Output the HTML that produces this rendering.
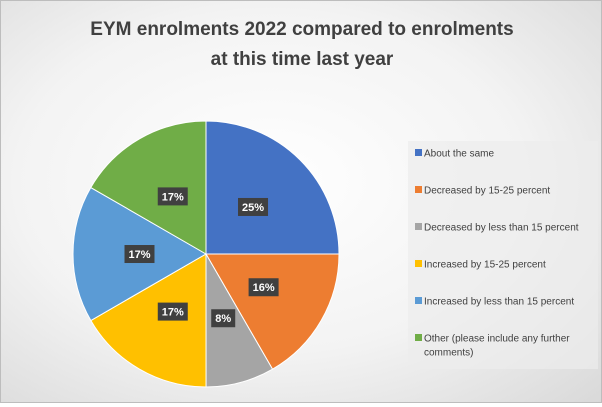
<!DOCTYPE html>
<html><head><meta charset="utf-8"><style>
html,body{margin:0;padding:0;}
body{width:602px;height:403px;overflow:hidden;font-family:"Liberation Sans",sans-serif;}
#chart{position:absolute;left:0;top:0;width:600px;height:401px;border:1px solid #bdbdbd;background:radial-gradient(ellipse at 45% 45%,#ffffff 0%,#f3f3f3 55%,#d9d9d9 100%);}
</style></head><body>
<div id="chart">
<svg width="600" height="401" xmlns="http://www.w3.org/2000/svg">
<text x="301" y="34" text-anchor="middle" font-size="19" font-weight="bold" fill="#404040">EYM enrolments 2022 compared to enrolments</text>
<text x="301" y="64" text-anchor="middle" font-size="19" font-weight="bold" fill="#404040">at this time last year</text>
<g id="slices"></g>
<g id="labels"></g>
<rect x="407" y="140" width="190" height="228" fill="#ececec" opacity="0.7"/>
<g id="legend"></g>
</svg>
</div>
<script>
const categories=["About the same","Decreased by 15-25 percent","Decreased by less than 15 percent","Increased by 15-25 percent","Increased by less than 15 percent","Other (please include any further comments)"];
const values=[25,16.67,8.33,16.67,16.67,16.67];
const valueLabels=["25%","16%","8%","17%","17%","17%"];
const colors=["#4472c4","#ed7d31","#a5a5a5","#ffc000","#5b9bd5","#70ad47"];
const NS="http://www.w3.org/2000/svg";
const cx=205,cy=253,r=133;
const total=values.reduce((a,b)=>a+b,0);
const angle=v=>v/total*Math.PI*2;
const pt=(a,rr)=>[cx+rr*Math.sin(a),cy-rr*Math.cos(a)];
const sg=document.getElementById('slices'),lg=document.getElementById('labels'),leg=document.getElementById('legend');
let acc=0;
values.forEach((v,i)=>{
  const a0=angle(acc),a1=angle(acc+v);acc+=v;
  const p0=pt(a0,r),p1=pt(a1,r);
  const large=(a1-a0)>Math.PI?1:0;
  const p=document.createElementNS(NS,'path');
  p.setAttribute('d',`M${cx},${cy}L${p0[0]},${p0[1]}A${r},${r} 0 ${large} 1 ${p1[0]},${p1[1]}Z`);
  p.setAttribute('fill',colors[i]);p.setAttribute('stroke','#fff');p.setAttribute('stroke-width','1');
  
  
  sg.appendChild(p);
  const m=pt((a0+a1)/2,r*0.5);
  const w=valueLabels[i].length>2?30:24;
  const b=document.createElementNS(NS,'rect');
  b.setAttribute('x',m[0]-w/2);b.setAttribute('y',m[1]-9);b.setAttribute('width',w);b.setAttribute('height',18);b.setAttribute('fill','#404040');
  
  
  lg.appendChild(b);
  const t=document.createElementNS(NS,'text');
  t.setAttribute('x',m[0]);t.setAttribute('y',m[1]+4);t.setAttribute('text-anchor','middle');t.setAttribute('font-size','11');t.setAttribute('font-weight','bold');t.setAttribute('fill','#fff');
  t.textContent=valueLabels[i];
  
  
  lg.appendChild(t);
  const y=152+i*37;
  const s=document.createElementNS(NS,'rect');
  s.setAttribute('x',414);s.setAttribute('y',y-4);s.setAttribute('width',7);s.setAttribute('height',7);s.setAttribute('fill',colors[i]);
  
  
  leg.appendChild(s);
  const lt=document.createElementNS(NS,'text');
  lt.setAttribute('x',423);lt.setAttribute('y',y+3.5);lt.setAttribute('font-size','10');lt.setAttribute('fill','#404040');
  const name=categories[i];
  if(name.length>36){
    const cut=name.lastIndexOf(' ',34);
    const t1=document.createElementNS(NS,'tspan');t1.textContent=name.slice(0,cut);lt.appendChild(t1);
    const t2=document.createElementNS(NS,'tspan');t2.setAttribute('x',423);t2.setAttribute('dy','14');t2.textContent=name.slice(cut+1);lt.appendChild(t2);
  } else lt.textContent=name;
  
  
  leg.appendChild(lt);
});
</script>
</body></html>
